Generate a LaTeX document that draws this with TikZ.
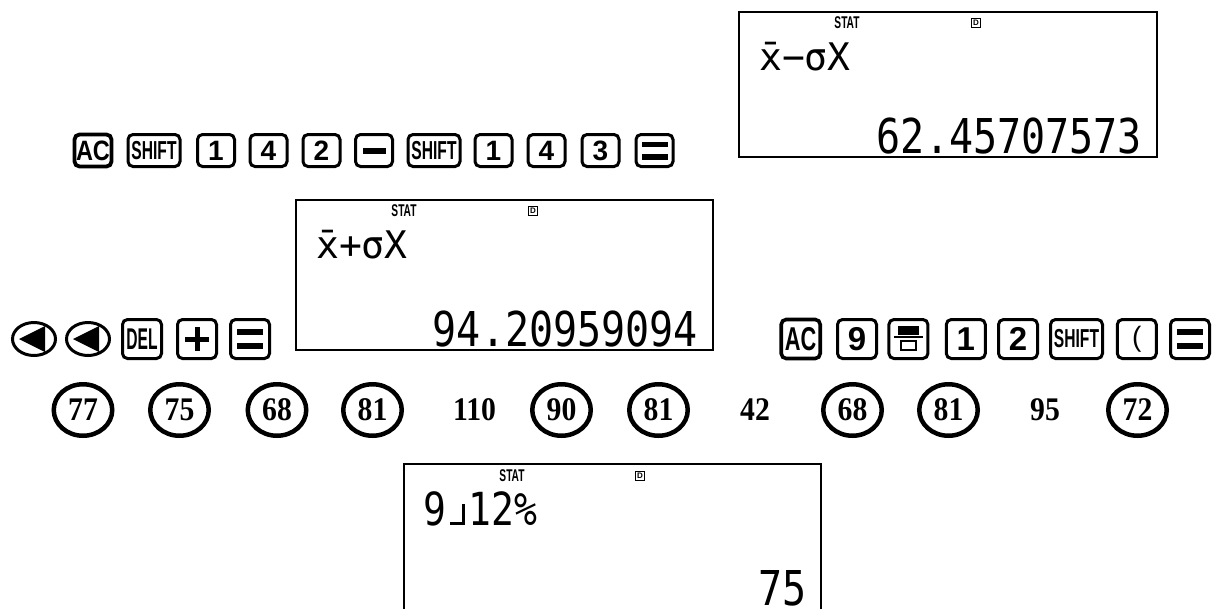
\documentclass[tikz,border=0pt]{standalone}
\usepackage{fontspec}
\setmainfont{Liberation Serif}
\newfontfamily\keyfont{Liberation Sans}
\newfontfamily\lcdfont{DejaVu Sans Mono}
\usetikzlibrary{shapes.geometric,calc}

% condensed number text for the data row
\newcommand\cnd[1]{\scalebox{0.9}[1]{#1}}
% SHIFT key legend
\newcommand\shiftlbl{\fontsize{26}{26}\selectfont\scalebox{0.6}[1]{SHIFT}}
% fraction separator of the calculator display
\newcommand\fracsep{\makebox[0.602em][c]{\rule{0.3em}{0.07em}\rule{0.07em}{0.45em}}}

\tikzset{
  keybox/.style={draw, line width=3pt, rounded corners=5pt, inner sep=0pt,
    minimum width=37pt, minimum height=32pt,
    font=\keyfont\bfseries\fontsize{28}{28}\selectfont},
  keybig/.style={keybox, minimum width=39pt, minimum height=39pt,
    font=\keyfont\bfseries\fontsize{33}{33}\selectfont},
  wide/.style={minimum width=52pt},
  arrowkey/.style={draw, ellipse, line width=3pt, minimum width=43pt,
    minimum height=33pt, inner sep=0pt},
  ring/.style={draw, ellipse, line width=4.5pt, minimum width=58.5pt,
    minimum height=51.5pt, inner sep=0pt,
    font=\bfseries\fontsize{33}{33}\selectfont},
  plainnum/.style={inner sep=0pt, font=\bfseries\fontsize{33}{33}\selectfont},
  screen/.style={draw, line width=2pt, minimum width=418pt, minimum height=145pt,
    inner sep=0pt},
  statlbl/.style={inner sep=0pt, font=\keyfont\bfseries\fontsize{17}{17}\selectfont},
  dicon/.style={draw, line width=1.6pt, inner sep=0pt, minimum size=9pt,
    font=\keyfont\bfseries\fontsize{8}{8}\selectfont},
  lcdtop/.style={inner sep=0pt, anchor=base west,
    font=\lcdfont\fontsize{38}{38}\selectfont},
  lcdbig/.style={inner sep=0pt, anchor=base east,
    font=\lcdfont\fontsize{40}{40}\selectfont},
}

\begin{document}
\begin{tikzpicture}[x=1pt,y=-1pt]
\useasboundingbox (0,0) rectangle (1220,608);
\clip (0,0) rectangle (1220,608);

% ---------- display: mean minus sigma ----------
\node[screen] (s1) at (948,84.5) {};
\node[statlbl] (s1stat) at ($(s1.north west)+(109,12)$) {\scalebox{0.6}[1]{STAT}};
\node[dicon] (s1d) at ($(s1.north west)+(238,12)$) {D};
\node[lcdtop] (s1top) at ($(s1.north west)+(21,59)$) {\={x}−σX};
\node[lcdbig] (s1res) at ($(s1.south east)+(-16,-5)$) {\scalebox{1}[1.2]{62.45707573}};

% ---------- key sequence 1 ----------
\node[keybox, line width=3.8pt] (a1) at (93,150.5) {\scalebox{0.84}[1]{AC}};
\node[keybox, wide] (a2) at (154,150.5) {\shiftlbl};
\node[keybox] (a3) at (216,150.5) {1};
\node[keybox] (a4) at (268.5,150.5) {4};
\node[keybox] (a5) at (321.5,150.5) {2};
\node[keybox] (a6) at (374,150.5) {};
\fill ($(a6.center)+(-11.5,-3)$) rectangle ($(a6.center)+(11.5,3)$);
\node[keybox, wide] (a7) at (434,150.5) {\shiftlbl};
\node[keybox] (a8) at (493.5,150.5) {1};
\node[keybox] (a9) at (546.5,150.5) {4};
\node[keybox] (a10) at (600.5,150.5) {3};
\node[keybox] (a11) at (654.5,150.5) {};
\fill ($(a11.center)+(-13,-9)$) rectangle ($(a11.center)+(13,-3.5)$);
\fill ($(a11.center)+(-13,3.5)$) rectangle ($(a11.center)+(13,9)$);

% ---------- display: mean plus sigma ----------
\node[screen, minimum width=417pt, minimum height=150pt] (s2) at (504.5,275) {};
\node[statlbl] (s2stat) at ($(s2.north west)+(109,12)$) {\scalebox{0.6}[1]{STAT}};
\node[dicon] (s2d) at ($(s2.north west)+(238,12)$) {D};
\node[lcdtop] (s2top) at ($(s2.north west)+(21,59)$) {\={x}+σX};
\node[lcdbig] (s2res) at ($(s2.south east)+(-16,-5)$) {\scalebox{1}[1.2]{94.20959094}};

% ---------- key sequence 2 ----------
\node[arrowkey] (b1) at (34,339) {};
\fill ($(b1.center)+(-15,0)$) -- ($(b1.center)+(11,-13)$) -- ($(b1.center)+(11,13)$) -- cycle;
\node[arrowkey] (b2) at (88,339) {};
\fill ($(b2.center)+(-15,0)$) -- ($(b2.center)+(11,-13)$) -- ($(b2.center)+(11,13)$) -- cycle;
\node[keybig] (b3) at (142,339) {\fontsize{30}{30}\selectfont\scalebox{0.52}[1]{DEL}};
\node[keybig] (b4) at (197,339) {};
\fill ($(b4.center)+(-12,-2.5)$) rectangle ($(b4.center)+(12,2.5)$);
\fill ($(b4.center)+(-2.5,-12)$) rectangle ($(b4.center)+(2.5,12)$);
\node[keybig] (b5) at (250,339) {};
\fill ($(b5.center)+(-13,-10)$) rectangle ($(b5.center)+(13,-4)$);
\fill ($(b5.center)+(-13,4)$) rectangle ($(b5.center)+(13,10)$);

% ---------- key sequence 3 ----------
\node[keybig, line width=3.6pt] (c1) at (800.7,339) {\scalebox{0.66}[1]{AC}};
\node[keybig] (c2) at (857,339) {9};
\node[keybig] (c3) at (908.4,339) {};
\fill ($(c3.center)+(-10.75,-13)$) rectangle ($(c3.center)+(10.75,-4.5)$);
\draw[line width=2pt] ($(c3.center)+(-14.5,-2)$) -- ($(c3.center)+(14.5,-2)$);
\draw[line width=2pt] ($(c3.center)+(-7.75,1.5)$) rectangle ($(c3.center)+(7.75,10.5)$);
\node[keybig] (c4) at (965.8,339) {1};
\node[keybig] (c5) at (1018,339) {2};
\node[keybig, minimum width=52pt] (c6) at (1076.5,339) {\shiftlbl};
\node[keybig] (c7) at (1136.8,339) {\mdseries\fontsize{28}{28}\selectfont(};
\node[keybig] (c8) at (1190,339) {};
\fill ($(c8.center)+(-13,-10)$) rectangle ($(c8.center)+(13,-4)$);
\fill ($(c8.center)+(-13,4)$) rectangle ($(c8.center)+(13,10)$);

% ---------- data values ----------
\node[ring] (d1) at (83,410) {\cnd{77}};
\node[ring] (d2) at (179.5,410) {\cnd{75}};
\node[ring] (d3) at (277,410) {\cnd{68}};
\node[ring] (d4) at (372.5,410) {\cnd{81}};
\node[plainnum] (d5) at (474.5,410) {\cnd{110}};
\node[ring] (d6) at (561.5,410) {\cnd{90}};
\node[ring] (d7) at (658.5,410) {\cnd{81}};
\node[plainnum] (d8) at (755,410) {\cnd{42}};
\node[ring] (d9) at (852.5,410) {\cnd{68}};
\node[ring] (d10) at (948.5,410) {\cnd{81}};
\node[plainnum] (d11) at (1045,410) {\cnd{95}};
\node[ring] (d12) at (1137.5,410) {\cnd{72}};

% ---------- display: percentile ----------
\node[screen, minimum width=417pt, minimum height=148pt] (s3) at (612.5,538) {};
\node[statlbl] (s3stat) at ($(s3.north west)+(109,13)$) {\scalebox{0.6}[1]{STAT}};
\node[dicon] (s3d) at ($(s3.north west)+(237,13)$) {D};
\node[lcdtop] (s3top) at ($(s3.north west)+(20,62)$) {\scalebox{1}[1.2]{9\fracsep12\%}};
\node[lcdbig] (s3res) at ($(s3.north east)+(-15,142)$) {\scalebox{1}[1.2]{75}};
\end{tikzpicture}
\end{document}
